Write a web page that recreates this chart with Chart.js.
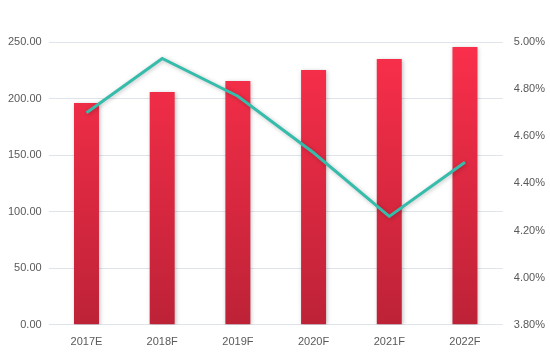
<!DOCTYPE html>
<html>
<head>
<meta charset="utf-8">
<script src="https://cdn.jsdelivr.net/npm/chart.js@4/dist/chart.umd.min.js"></script>
<style>
  html, body { margin: 0; padding: 0; background: #fff; }
  #wrap { width: 550px; height: 354px; }
</style>
</head>
<body>
<div id="wrap"><canvas id="combo"></canvas></div>
<script>
var years = ['2017E', '2018F', '2019F', '2020F', '2021F', '2022F'];
var barValues = [196, 205.8, 215.5, 225.3, 235, 245.5];
var rateValues = [4.70, 4.93, 4.77, 4.53, 4.26, 4.49];

// soft drop shadow under bars and line
var shadowPlugin = {
    id: 'shadow',
    beforeDatasetDraw: function (chart) {
        var c = chart.ctx;
        c.save();
        c.shadowColor = 'rgba(0, 0, 0, 0.25)';
        c.shadowBlur = 4;
        c.shadowOffsetX = 1;
        c.shadowOffsetY = 1;
    },
    afterDatasetDraw: function (chart) {
        chart.ctx.restore();
    }
};

var ctx = document.getElementById('combo').getContext('2d');
var chart = new Chart(ctx, {
    type: 'bar',
    data: {
        labels: years,
        datasets: [{
            type: 'line',
            data: rateValues,
            yAxisID: 'y1',
            borderColor: '#36bcab',
            borderWidth: 3,
            pointRadius: 0,
            tension: 0,
            fill: false,
            order: 0
        }, {
            type: 'bar',
            data: barValues,
            yAxisID: 'y',
            backgroundColor: function (context) {
                var area = context.chart.chartArea;
                if (!area) return '#f22e49';
                var g = context.chart.ctx.createLinearGradient(0, area.top, 0, area.bottom);
                g.addColorStop(0, '#fb2f4b');
                g.addColorStop(1, '#bd2237');
                return g;
            },
            borderWidth: 0,
            categoryPercentage: 1,
            barPercentage: 0.33,
            order: 1
        }]
    },
    options: {
        responsive: true,
        maintainAspectRatio: false,
        animation: false,
        layout: { padding: { top: 42, left: 1, right: 2, bottom: 2 } },
        plugins: {
            legend: { display: false },
            tooltip: { enabled: false }
        },
        scales: {
            x: {
                grid: { display: false },
                border: { display: false },
                ticks: { color: '#595959', font: { family: 'Liberation Sans', size: 11 }, padding: 3 }
            },
            y: {
                position: 'left',
                min: 0,
                max: 250,
                ticks: {
                    stepSize: 50,
                    color: '#595959',
                    font: { family: 'Liberation Sans', size: 11 },
                    padding: 7,
                    callback: function (v) { return v.toFixed(2); }
                },
                grid: { color: '#dfe3ea', drawTicks: false },
                border: { display: false }
            },
            y1: {
                position: 'right',
                min: 3.8,
                max: 5.0,
                ticks: {
                    stepSize: 0.2,
                    color: '#595959',
                    font: { family: 'Liberation Sans', size: 11 },
                    padding: 3,
                    callback: function (v) { return v.toFixed(2) + '%'; }
                },
                grid: { display: false },
                border: { display: false }
            }
        }
    },
    plugins: [shadowPlugin]
});
</script>
</body>
</html>
